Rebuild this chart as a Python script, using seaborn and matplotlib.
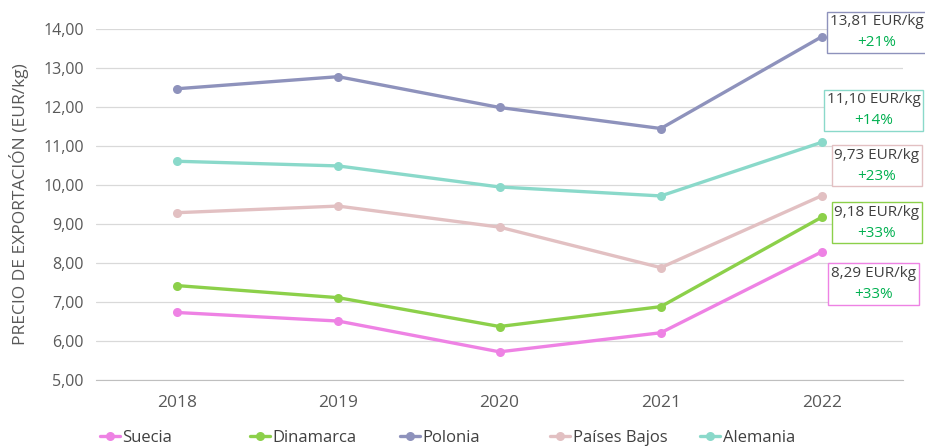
import pandas as pd
import seaborn as sns
import matplotlib.pyplot as plt
from matplotlib.lines import Line2D
from matplotlib.offsetbox import TextArea, VPacker, AnnotationBbox

years = ["2018", "2019", "2020", "2021", "2022"]
paises = ["Suecia", "Dinamarca", "Polonia", "Países Bajos", "Alemania"]
suecia = [6.73, 6.51, 5.72, 6.21, 8.29]
dinamarca = [7.42, 7.11, 6.37, 6.88, 9.18]
polonia = [12.47, 12.78, 11.99, 11.45, 13.81]
paises_bajos = [9.29, 9.46, 8.92, 7.88, 9.73]
alemania = [10.61, 10.49, 9.95, 9.72, 11.10]
etiquetas = ["8,29 EUR/kg", "9,18 EUR/kg", "13,81 EUR/kg", "9,73 EUR/kg", "11,10 EUR/kg"]
variacion = ["+33%", "+33%", "+21%", "+23%", "+14%"]

colores = ["#EE82E4", "#8CD04A", "#8E92BC", "#E2C0C2", "#8AD9CA"]
series = [suecia, dinamarca, polonia, paises_bajos, alemania]

rows = []
for p, vals in zip(paises, series):
    for y, v in zip(years, vals):
        rows.append({"year": y, "pais": p, "precio": v})
df = pd.DataFrame(rows)

sns.set_style("white")
plt.rcParams["font.family"] = ["Open Sans", "DejaVu Sans"]

fig = plt.figure(figsize=(9.25, 4.48), dpi=100)
ax = fig.add_axes([0.104, 0.152, 0.872, 0.783])

sns.lineplot(data=df, x="year", y="precio", hue="pais", hue_order=paises,
             palette=colores, marker="o", markersize=6.5, markeredgewidth=0,
             linewidth=2.4, sort=False, legend=False, ax=ax)

ax.set_ylim(5, 14)
ax.set_xlim(-0.5, 4.5)
ax.set_yticks(range(5, 15))
ax.set_yticklabels([f"{v},00" for v in range(5, 15)])
ax.yaxis.grid(True, color="#D9D9D9", linewidth=0.9)
ax.set_axisbelow(True)
for s in ["top", "right", "left"]:
    ax.spines[s].set_visible(False)
ax.spines["bottom"].set_color("#BFBFBF")
ax.tick_params(axis="x", colors="#595959", labelsize=12.5, length=0, pad=11)
ax.tick_params(axis="y", colors="#595959", labelsize=11.5, length=0, pad=9)
ax.set_xlabel("")
ax.set_ylabel("PRECIO DE EXPORTACIÓN (EUR/kg)", color="#595959", fontsize=12.5, labelpad=10)

# cajas con el último valor y la variación
pos_x = [4.32, 4.34, 4.34, 4.34, 4.32]
pos_y = [7.46, 9.03, 13.92, 10.49, 11.92]
for i in range(len(paises)):
    l1 = TextArea(etiquetas[i], textprops=dict(color="#404040", fontsize=11))
    l2 = TextArea(variacion[i], textprops=dict(color="#00B050", fontsize=11))
    caja = VPacker(children=[l1, l2], align="center", pad=0, sep=4)
    ab = AnnotationBbox(caja, (pos_x[i], pos_y[i]), xycoords="data", frameon=True,
                        box_alignment=(0.5, 0.5), pad=0.2, annotation_clip=False,
                        bboxprops=dict(boxstyle="square,pad=0.2", fc="white",
                                       ec=colores[i], lw=1))
    ab.set_zorder(1.5)  # los puntos quedan por encima de la caja
    ax.add_artist(ab)

# leyenda con huecos iguales
for i, (p, c) in enumerate(zip(paises, colores)):
    h = Line2D([0], [0], color=c, lw=2.4, marker="o", markersize=6.5, markeredgewidth=0)
    fig.legend([h], [p], loc="center left", bbox_to_anchor=(0.108 + i * 0.1622, 0.022),
               frameon=False, fontsize=12, handlelength=1.2, handletextpad=0.15,
               borderpad=0, borderaxespad=0, labelcolor="#404040")

fig.savefig("out.png", dpi=100)
